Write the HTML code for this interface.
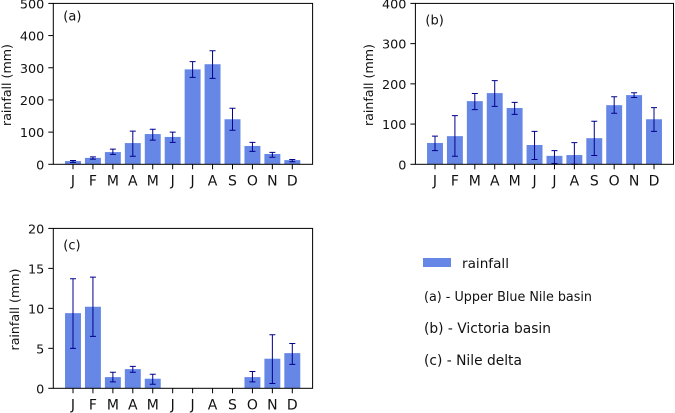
<!DOCTYPE html>
<html>
<head>
<meta charset="utf-8">
<style>
html,body{margin:0;padding:0;background:#fff;width:675px;height:413px;overflow:hidden}
svg{display:block}
text{font-family:"DejaVu Sans","Liberation Sans",sans-serif;fill:#111}
</style>
</head>
<body>
<svg id="fig" width="675" height="413" viewBox="0 0 675 413" xmlns="http://www.w3.org/2000/svg">
  <g>
    <rect x="423" y="258" width="28" height="9" fill="#6787e7"/>
    <text x="462" y="268" font-size="13.6">rainfall</text>
    <text x="424" y="301" font-size="13" textLength="168" lengthAdjust="spacingAndGlyphs">(a) - Upper Blue Nile basin</text>
    <text x="424" y="333" font-size="13.8">(b) - Victoria basin</text>
    <text x="424" y="365" font-size="13.8">(c) - Nile delta</text>
  </g>
</svg>
<script>
var months = ['J','F','M','A','M','J','J','A','S','O','N','D'];

var rainA = [10,20,38,66,94,85,295,311,140,57,32,13];
var lowA  = [6,16,31,25,75,68,270,267,106,40,22,8];
var highA = [12,23,47,103,109,100,319,353,174,68,37,15];
var ticksA = [0,100,200,300,400,500];

var rainB = [53,70,157,177,140,48,21,23,65,147,172,112];
var lowB  = [34,20,136,144,124,12,2,0,22,127,166,82];
var highB = [70,121,176,208,154,82,34,54,107,168,178,141];
var ticksB = [0,100,200,300,400];

var rainC = [9.4,10.2,1.4,2.4,1.2,0,0,0,0,1.4,3.7,4.4];
var lowC  = [5,6.5,0.8,2.0,0.5,0,0,0,0,0.8,0.6,3];
var highC = [13.7,13.9,2,2.75,1.75,0,0,0,0,2.1,6.7,5.6];
var ticksC = [0,5,10,15,20];

var NS = 'http://www.w3.org/2000/svg';
var svg = document.getElementById('fig');

function make(parent, tag, attrs, txt){
  var el = document.createElementNS(NS, tag);
  for (var k in attrs) el.setAttribute(k, attrs[k]);
  if (txt !== undefined) el.textContent = txt;
  parent.appendChild(el);
  return el;
}

function panel(key, box, letter, vals, lows, highs, ticks, labelX){
  var g = make(svg, 'g', {});
  
  
  var yMax = ticks[ticks.length-1];
  var step = (box.d - box.j) / 11;
  function xScale(i){ return box.j + i * step; }
  function yScale(v){ return box.b - (v / yMax) * (box.b - box.t); }
  var barW = step * 0.8;

  vals.forEach(function(v, i){
    if (v <= 0) return;
    var bar = make(g, 'rect', {x: xScale(i) - barW/2, y: yScale(v), width: barW, height: box.b - yScale(v), fill: '#6787e7'});
    
    
  });

  vals.forEach(function(v, i){
    if (v <= 0) return;
    var x = xScale(i), y0 = yScale(lows[i]), y1 = yScale(highs[i]);
    var err = make(g, 'path', {
      d: 'M' + x + ' ' + y0 + 'V' + y1 + 'M' + (x-3) + ' ' + y0 + 'H' + (x+3) + 'M' + (x-3) + ' ' + y1 + 'H' + (x+3),
      stroke: '#00008b', 'stroke-width': 1, fill: 'none'
    });
    
    
  });

  var frame = make(g, 'rect', {x: box.l, y: box.t, width: box.r - box.l, height: box.b - box.t, fill: 'none', stroke: '#000', 'stroke-width': 1});
  
  

  ticks.forEach(function(t){
    var y = yScale(t);
    var tk = make(g, 'line', {x1: box.l - 5, x2: box.l, y1: y, y2: y, stroke: '#000', 'stroke-width': 1});
    
    
    var lb = make(g, 'text', {x: box.l - 9, y: y + 5, 'font-size': 12.8, 'text-anchor': 'end'}, String(t));
    
    
  });

  months.forEach(function(m, i){
    var x = xScale(i);
    var tk = make(g, 'line', {x1: x, x2: x, y1: box.b, y2: box.b + 5, stroke: '#000', 'stroke-width': 1});
    
    
    var lb = make(g, 'text', {x: x, y: box.b + 21, 'font-size': 14, 'text-anchor': 'middle'}, m);
    
    
  });

  var cy = (box.t + box.b) / 2 + 1.2;
  var yt = make(g, 'text', {x: labelX, y: cy, 'font-size': 12.6, 'text-anchor': 'middle', transform: 'rotate(-90 ' + labelX + ' ' + cy + ')'}, 'rainfall (mm)');
  
  

  var pl = make(g, 'text', {x: box.l + letter.dx, y: box.t + letter.dy, 'font-size': 13}, '(' + key + ')');
  
  
}

panel('a', {l:53.3, r:312.6, t:3.4, b:164.3, j:73, d:292.3}, {dx:10, dy:17}, rainA, lowA, highA, ticksA, 11);
panel('b', {l:415.4, r:673.5, t:3.4, b:164.3, j:435, d:654}, {dx:10, dy:21}, rainB, lowB, highB, ticksB, 373);
panel('c', {l:53.3, r:312.6, t:228.4, b:388.3, j:73, d:292.3}, {dx:10, dy:21}, rainC, lowC, highC, ticksC, 19);
</script>
</body>
</html>
